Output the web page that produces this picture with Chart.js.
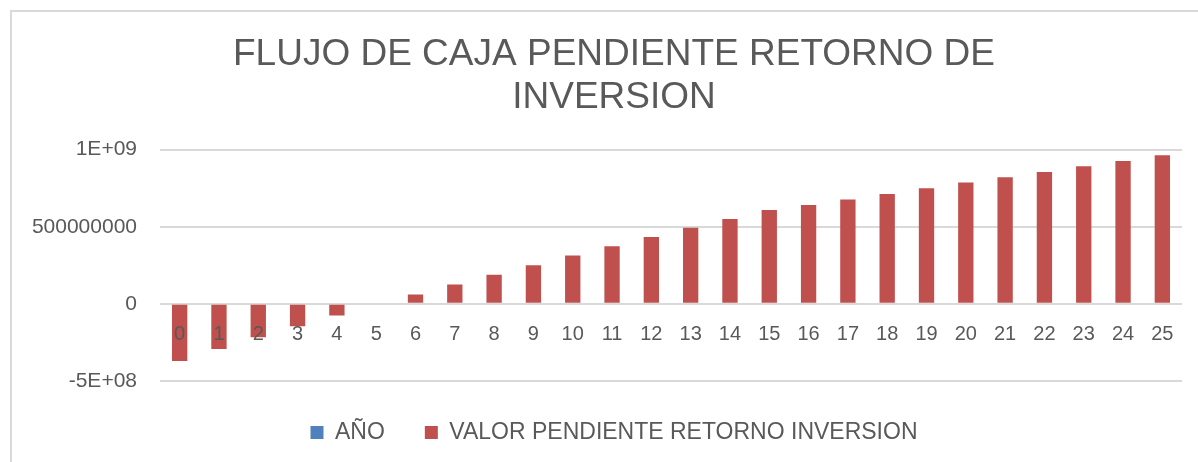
<!DOCTYPE html>
<html>
<head>
<meta charset="utf-8">
<script src="https://cdn.jsdelivr.net/npm/chart.js@4/dist/chart.umd.min.js"></script>
<style>
  html, body { margin: 0; padding: 0; background: #fff; overflow: hidden; }
  #wrap { position: relative; width: 1198px; height: 462px; overflow: hidden; }
  #frame { position: absolute; left: 10px; top: 10px; right: 0; bottom: 0;
           border-left: 2px solid #d9d9d9; border-top: 2px solid #d9d9d9; }
  canvas { position: absolute; left: 0; top: 0; }
</style>
</head>
<body>
<div id="wrap">
  <div id="frame"></div>
  <canvas id="flujoCaja" width="1240" height="462"></canvas>
</div>
<script>
const years = ['0','1','2','3','4','5','6','7','8','9','10','11','12','13','14','15','16','17','18','19','20','21','22','23','24','25'];
const anoValues = [0,1,2,3,4,5,6,7,8,9,10,11,12,13,14,15,16,17,18,19,20,21,22,23,24,25];
const valorPendiente = [-370e6, -292e6, -216e6, -145e6, -76e6, -6e6, 61e6, 126e6, 188e6, 251e6,
    314e6, 374e6, 433e6, 494e6, 550e6, 608e6, 641e6, 677e6, 712e6, 749e6,
    786e6, 820e6, 855e6, 892e6, 926e6, 963e6];
const yTicks = [-5e8, 0, 5e8, 1e9];
const yTickLabels = ['-5E+08', '0', '500000000', '1E+09'];

const fontFamily = '"Liberation Sans", Arial, sans-serif';
const textColor = '#595959';

// canvas is wider than the window; the empty right axis only shifts the title/legend centre
const chartFlujo = new Chart(
    document.getElementById('flujoCaja'),
    {
        type: 'bar',
        data: {
            labels: years,
            datasets: [{
                label: 'AÑO',
                data: anoValues,
                backgroundColor: '#4f81bd',
                maxBarThickness: 0,   // years are far too small to show on this scale
            }, {
                label: 'VALOR PENDIENTE RETORNO INVERSION',
                data: valorPendiente,
                backgroundColor: '#c0504d',
            }]
        },
        options: {
            responsive: false,
            animation: false,
            grouped: false,
            categoryPercentage: 1,
            barPercentage: 0.39,
            layout: {
                padding: { left: 0, right: 12, top: 0, bottom: 8 }
            },
            scales: {
                x: {
                    position: { y: 0 },
                    grid: { display: false, drawTicks: false },
                    border: { display: false },
                    ticks: {
                        z: 1,
                        padding: 19,
                        color: textColor,
                        font: { family: fontFamily, size: 20 },
                        maxRotation: 0,
                        autoSkip: false
                    }
                },
                y: {
                    min: -5e8,
                    max: 1e9,
                    afterFit: (scale) => { scale.width = 160; },
                    afterBuildTicks: (scale) => {
                        scale.ticks = yTicks.map(v => ({ value: v }));
                    },
                    grid: { color: '#d9d9d9', lineWidth: 2, drawTicks: false },
                    border: { display: false },
                    ticks: {
                        padding: 23,
                        color: textColor,
                        font: { family: fontFamily, size: 21 },
                        callback: (value) => {
                            const i = yTicks.indexOf(value);
                            return i >= 0 ? yTickLabels[i] : '';
                        }
                    }
                },
                spacer: {
                    type: 'linear',
                    position: 'right',
                    afterFit: (scale) => { scale.width = 46; },
                    grid: { display: false, drawTicks: false },
                    border: { display: false },
                    ticks: { display: false }
                }
            },
            plugins: {
                title: {
                    display: true,
                    text: ['FLUJO DE CAJA PENDIENTE RETORNO DE', 'INVERSION'],
                    color: textColor,
                    font: { family: fontFamily, size: 37, weight: 'normal', lineHeight: 1.17 },
                    padding: { top: 33, bottom: 30 }
                },
                legend: {
                    position: 'bottom',
                    labels: {
                        boxWidth: 13,
                        boxHeight: 13,
                        padding: 40,
                        color: textColor,
                        font: { family: fontFamily, size: 23 }
                    }
                },
                tooltip: { enabled: false }
            }
        }
    }
);
</script>
</body>
</html>
